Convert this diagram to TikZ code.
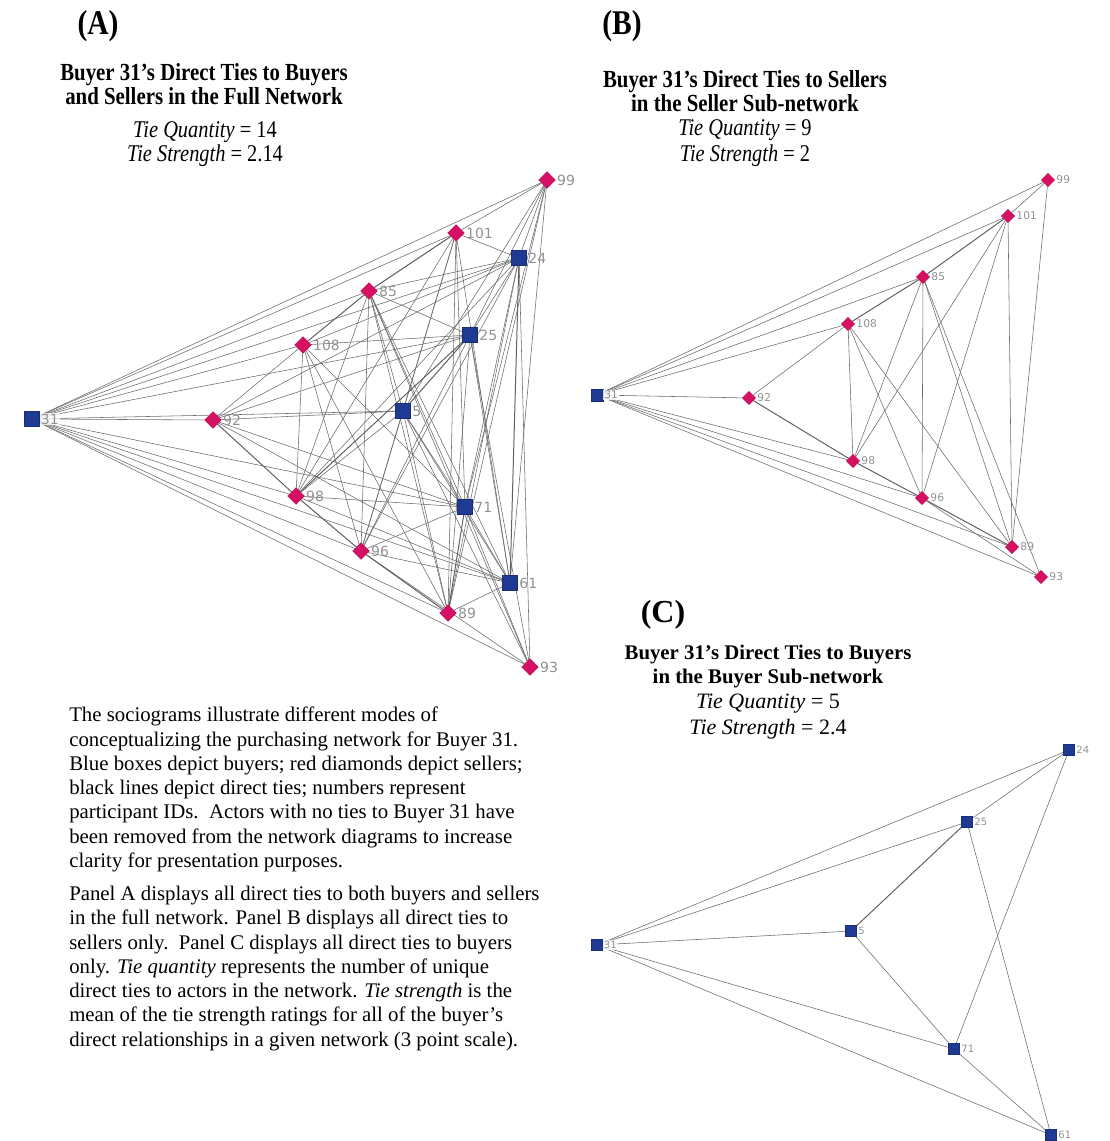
\documentclass[tikz,border=0pt]{standalone}
\usepackage{fontspec}
\setmainfont{Liberation Serif}
\newfontfamily\condfont[FakeStretch=0.85]{Liberation Serif}
\newfontfamily\idfont{DejaVu Sans}
\usepackage{tikz}
\usetikzlibrary{shapes.geometric,backgrounds}
\definecolor{BuyerBlue}{RGB}{31,58,147}
\definecolor{SellerRed}{RGB}{214,16,98}
\definecolor{IDGray}{RGB}{145,145,145}

\begin{document}
\begin{tikzpicture}[x=0.75pt,y=-0.75pt,
  buyer/.style={rectangle,fill=BuyerBlue,draw=BuyerBlue!80!black,line width=0.3pt,inner sep=0pt,minimum size=#1},
  seller/.style={diamond,fill=SellerRed,draw=SellerRed!85!black,line width=0.3pt,inner sep=0pt,minimum size=#1},
  idA/.style={font=\idfont\fontsize{10.5}{10.5}\selectfont,text=IDGray,inner sep=1pt},
  idB/.style={font=\idfont\fontsize{8}{8}\selectfont,text=IDGray,inner sep=1pt},
  idC/.style={font=\idfont\fontsize{7.5}{7.5}\selectfont,text=IDGray,inner sep=1pt},
  hub/.style={fill=white,fill opacity=0.8,text opacity=1,inner sep=0.6pt},
  tie/.style={draw=black!58,line width=0.42pt},
  strongtie/.style={draw=black!62,line width=0.75pt},
  tag/.style={font=\condfont\bfseries\fontsize{26}{26}\selectfont},
  head/.style={font=\condfont\bfseries\fontsize{18.4}{18}\selectfont,align=center},
  stats/.style={font=\condfont\fontsize{18}{#1}\selectfont,align=center}]
\useasboundingbox (0,0) rectangle (1109,1141);
% Panel A: full network
\begin{scope}
  \node[tag] (tagA) at (98,26) {(A)};
  \node[head] (titleA) at (204,84) {Buyer 31’s Direct Ties to Buyers\\and Sellers in the Full Network};
  \node[stats=18] (statsA) at (205,144) {\textit{Tie Quantity} = 14\\\textit{Tie Strength} = 2.14};
  \foreach \n/\x/\y in {99/547/180,101/456/233,85/369/291,108/303/345,92/213/420,98/296/496,96/361/551,89/448/613,93/530/667}
    {\node[seller=12.5pt,label={[idA]right:\n}] (a\n) at (\x,\y) {};}
  \foreach \n/\x/\y in {24/519/258,25/470/335,5/403/411,71/465/507,61/510/583}
    {\node[buyer=11.5pt,label={[idA]right:\n}] (a\n) at (\x,\y) {};}
  \node[buyer=11.5pt,label={[idA,hub]right:31}] (a31) at (32,419) {};
  \begin{pgfonlayer}{background}
  \foreach \t in {99,101,24,85,25,108,92,5,98,71,96,61,89,93}{\draw[tie] (a31) -- (a\t);}
  \foreach \s/\t in {99/101,99/89,101/98,101/96,101/89,85/98,85/96,85/89,85/93,108/92,108/98,108/96,108/89,96/93,
    25/24,25/61,24/71,5/71,71/61,
    99/24,99/25,99/5,99/71,99/61,24/93,101/24,101/5,101/71,101/61,85/24,85/25,85/5,85/71,85/61,
    108/25,108/24,108/71,92/5,92/25,92/24,92/71,92/61,24/98,24/96,24/89,25/96,25/89,25/93,
    5/98,5/96,5/89,5/61,5/93,71/98,71/96,71/93,61/98,61/96,61/89}
    {\draw[tie] (a\s) -- (a\t);}
  \foreach \s/\t in {101/85,85/108,92/98,98/96,96/89,25/5,24/61,25/98,71/89}{\draw[strongtie] (a\s) -- (a\t);}
  \end{pgfonlayer}
\end{scope}
% Panel B: seller sub-network
\begin{scope}
  \node[tag] (tagB) at (622,26) {(B)};
  \node[head] (titleB) at (745,91) {Buyer 31’s Direct Ties to Sellers\\in the Seller Sub-network};
  \node[stats=19.5] (statsB) at (745,143) {\textit{Tie Quantity} = 9\\\textit{Tie Strength} = 2};
  \foreach \n/\x/\y in {99/1048/180,101/1008/216,85/923/277,108/848/324,92/749/398,98/853/461,96/922/498,89/1012/547,93/1041/577}
    {\node[seller=10pt,label={[idB]right:\n}] (b\n) at (\x,\y) {};}
  \node[buyer=9pt,label={[idB,hub]right:31}] (b31) at (597,395) {};
  \begin{pgfonlayer}{background}
  \foreach \t in {99,101,85,108,92,98,96,89,93}{\draw[tie] (b31) -- (b\t);}
  \foreach \s/\t in {99/101,99/89,101/98,101/96,101/89,85/98,85/96,85/89,85/93,108/92,108/98,108/96,108/89,96/93}
    {\draw[tie] (b\s) -- (b\t);}
  \foreach \s/\t in {101/85,85/108,92/98,98/96,96/89}{\draw[strongtie] (b\s) -- (b\t);}
  \end{pgfonlayer}
\end{scope}
% Panel C: buyer sub-network
\begin{scope}
  \node[font=\bfseries\fontsize{24}{24}\selectfont] (tagC) at (663,615) {(C)};
  \node[font=\bfseries\fontsize{15.6}{18}\selectfont,align=center] (titleC) at (768,667) {Buyer 31’s Direct Ties to Buyers\\in the Buyer Sub-network};
  \node[font=\fontsize{16.5}{19.5}\selectfont,align=center] (statsC) at (768,717) {\textit{Tie Quantity} = 5\\\textit{Tie Strength} = 2.4};
  \foreach \n/\x/\y in {24/1069/750,25/967/822,5/851/931,71/954/1049,61/1051/1135}
    {\node[buyer=8.5pt,label={[idC]right:\n}] (c\n) at (\x,\y) {};}
  \node[buyer=8.5pt,label={[idC,hub]right:31}] (c31) at (597,945) {};
  \begin{pgfonlayer}{background}
  \foreach \t in {24,25,5,71,61}{\draw[tie] (c31) -- (c\t);}
  \foreach \s/\t in {25/24,25/61,24/71,5/71,71/61}{\draw[tie] (c\s) -- (c\t);}
  \draw[strongtie] (c25) -- (c5);
  \end{pgfonlayer}
\end{scope}
% Notes
\node[anchor=north west,inner sep=0pt,align=left,font=\fontsize{15.6}{18.2}\selectfont] (notes) at (69,707)
  {The sociograms illustrate different modes of\\
   conceptualizing the purchasing network for Buyer 31.\\
   Blue boxes depict buyers; red diamonds depict sellers;\\
   black lines depict direct ties; numbers represent\\
   participant IDs.\ \ Actors with no ties to Buyer 31 have\\
   been removed from the network diagrams to increase\\
   clarity for presentation purposes.\\[6.6pt]
   Panel A displays all direct ties to both buyers and sellers\\
   in the full network. Panel B displays all direct ties to\\
   sellers only.\ \ Panel C displays all direct ties to buyers\\
   only. \textit{Tie quantity} represents the number of unique\\
   direct ties to actors in the network. \textit{Tie strength} is the\\
   mean of the tie strength ratings for all of the buyer’s\\
   direct relationships in a given network (3 point scale).};
\end{tikzpicture}
\end{document}
